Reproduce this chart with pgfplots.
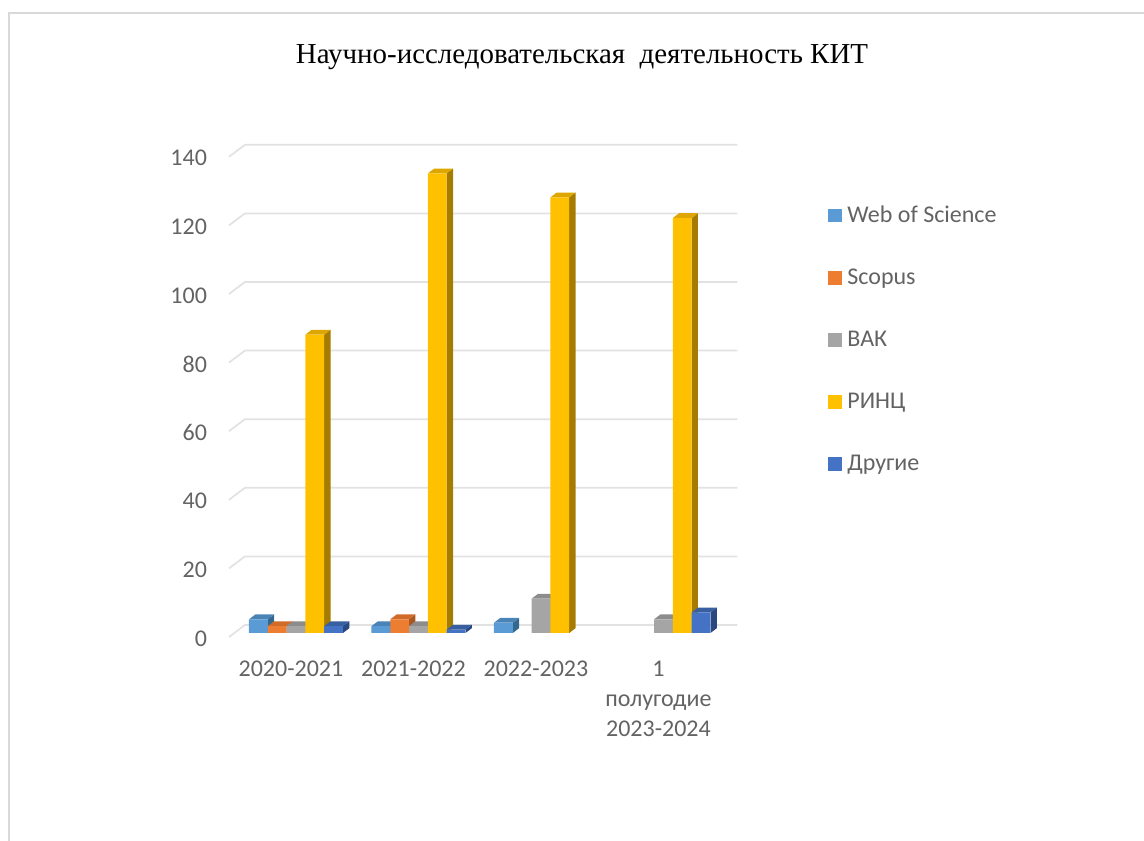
\documentclass[border=0pt]{standalone}
\usepackage{pgfplots}
\pgfplotsset{compat=1.18}
\usepackage{fontspec}
\setmainfont{Carlito}
\newfontfamily\titlefont{Liberation Serif}
\definecolor{tickgray}{HTML}{636363}
\definecolor{gridgray}{HTML}{E2E2E2}
\definecolor{framegray}{HTML}{D9D9D9}
\definecolor{wosF}{HTML}{5B9BD5}\definecolor{wosT}{HTML}{4A83B5}\definecolor{wosS}{HTML}{34698F}
\definecolor{scoF}{HTML}{ED7D31}\definecolor{scoT}{HTML}{D06C28}\definecolor{scoS}{HTML}{A9561F}
\definecolor{vakF}{HTML}{A5A5A5}\definecolor{vakT}{HTML}{8C8C8C}\definecolor{vakS}{HTML}{737373}
\definecolor{rinF}{HTML}{FFC000}\definecolor{rinT}{HTML}{DDA600}\definecolor{rinS}{HTML}{A67C00}
\definecolor{othF}{HTML}{4472C4}\definecolor{othT}{HTML}{385F9F}\definecolor{othS}{HTML}{2A4880}
% side and top faces of one bar: category, shift (px), value, series prefix
\newcommand{\faces}[4]{%
  \pgfmathsetmacro\xL{#1+(#2-9.4)/122.5}%
  \pgfmathsetmacro\xR{#1+(#2+9.4)/122.5}%
  \pgfmathsetmacro\xLb{\xL+0.0514}%
  \pgfmathsetmacro\xRb{\xR+0.0514}%
  \pgfmathsetmacro\vb{#3+1.4}%
  \edef\tmp{\noexpand\addplot[forget plot,draw=none,fill=#4S,yshift=3pt] coordinates {(\xR,0)(\xRb,1.4)(\xRb,\vb)(\xR,#3)} -- cycle;
  \noexpand\addplot[forget plot,draw=none,fill=#4T,yshift=3pt] coordinates {(\xL,#3)(\xLb,\vb)(\xRb,\vb)(\xR,#3)} -- cycle;}%
  \tmp}
\newcommand{\wall}[1]{%
  \pgfmathsetmacro\vb{#1+3.5}%
  \edef\tmp{\noexpand\addplot[forget plot,gridgray,line width=1.3pt] coordinates {(-0.5,#1)(-0.37,\vb)(3.65,\vb)};}%
  \tmp}
\begin{document}
\begin{tikzpicture}
\path[use as bounding box] (0,0) rectangle (858pt,630.75pt);
\draw[framegray,line width=1.6pt] (7pt,-1pt) -- (7pt,621pt) -- (859pt,621pt);
\begin{axis}[
  at={(171.75pt,153pt)},anchor=south west,
  scale only axis,width=381pt,height=369pt,
  xmin=-0.5,xmax=3.647,ymin=0,ymax=143.44,
  clip=false,
  axis line style={draw=none},
  major tick length=0pt,
  xtick={0,1,2,3},
  xticklabels={2020-2021,2021-2022,2022-2023,{1\\полугодие\\2023-2024}},
  ytick={0,20,...,140},
  /pgf/number format/assume math mode=true,
  tick label style={font=\fontsize{18}{22.5}\selectfont,text=tickgray},
  xticklabel style={align=center,yshift=-14.75pt,xshift=0.5pt},
  yticklabel style={xshift=-13pt,yshift=-1pt},
  legend style={draw=none,fill=none,at={(1.179,0.882)},anchor=north west,
    legend cell align=left,font=\fontsize{18}{20}\selectfont,text=tickgray,
    row sep=29.4pt,column sep=2.4pt,inner sep=0pt},
  legend image code/.code={\fill[#1] (0cm,-5pt) rectangle (10pt,5pt);},
  legend plot pos=left,
]
\wall{0}\wall{20}\wall{40}\wall{60}\wall{80}\wall{100}\wall{120}\wall{140}
% Web of Science
\faces{0}{-31.85}{4}{wos}\faces{1}{-31.85}{2}{wos}\faces{2}{-31.85}{3}{wos}
\addplot[forget plot,ybar,bar width=14.1pt,bar shift=-23.9pt,yshift=3pt,draw=none,fill=wosF] coordinates {(0,4)(1,2)(2,3)};
% Scopus
\faces{0}{-13.05}{2}{sco}\faces{1}{-13.05}{4}{sco}
\addplot[forget plot,ybar,bar width=14.1pt,bar shift=-9.8pt,yshift=3pt,draw=none,fill=scoF] coordinates {(0,2)(1,4)};
% VAK
\faces{0}{5.75}{2}{vak}\faces{1}{5.75}{2}{vak}\faces{2}{5.75}{10}{vak}\faces{3}{5.75}{4}{vak}
\addplot[forget plot,ybar,bar width=14.1pt,bar shift=4.3pt,yshift=3pt,draw=none,fill=vakF] coordinates {(0,2)(1,2)(2,10)(3,4)};
% RINC
\faces{0}{24.55}{87}{rin}\faces{1}{24.55}{134}{rin}\faces{2}{24.55}{127}{rin}\faces{3}{24.55}{121}{rin}
\addplot[forget plot,ybar,bar width=14.1pt,bar shift=18.4pt,yshift=3pt,draw=none,fill=rinF] coordinates {(0,87)(1,134)(2,127)(3,121)};
% Others
\faces{0}{43.35}{2}{oth}\faces{1}{43.35}{1}{oth}\faces{3}{43.35}{6}{oth}
\addplot[forget plot,ybar,bar width=14.1pt,bar shift=32.5pt,yshift=3pt,draw=none,fill=othF] coordinates {(0,2)(1,1)(3,6)};
\addlegendimage{draw=none,fill=wosF}\addlegendentry{Web of Science}
\addlegendimage{draw=none,fill=scoF}\addlegendentry{Scopus}
\addlegendimage{draw=none,fill=vakF}\addlegendentry{ВАК}
\addlegendimage{draw=none,fill=rinF}\addlegendentry{РИНЦ}
\addlegendimage{draw=none,fill=othF}\addlegendentry{Другие}
\end{axis}
\node[font=\titlefont\fontsize{21.7}{26}\selectfont,anchor=center] at (436.5pt,588.25pt) {Научно-исследовательская\ \ деятельность КИТ};
\end{tikzpicture}
\end{document}
